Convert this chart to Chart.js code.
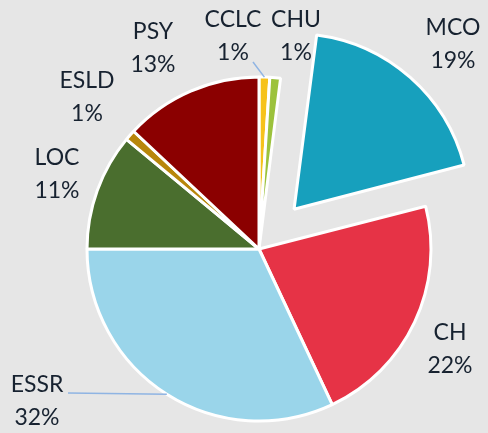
<!DOCTYPE html>
<html>
<head>
<meta charset="utf-8">
<script src="https://cdn.jsdelivr.net/npm/chart.js@4/dist/chart.umd.min.js"></script>
<style>
  html, body { margin: 0; padding: 0; background: #e6e6e6; }
  #wrap { width: 488px; height: 433px; }
</style>
</head>
<body>
<div id="wrap"><canvas id="pie" width="488" height="433"></canvas></div>
<script>
var categories = ['CCLC', 'CHU', 'MCO', 'CH', 'ESSR', 'LOC', 'ESLD', 'PSY'];
var shares = [1, 1, 19, 22, 32, 11, 1, 13];
var sliceColors = ['#f6c21b', '#9cc23c', '#17a0bd', '#e63346', '#9ad5ea', '#4a6e2e', '#b8860b', '#8b0000'];
var explode = [0, 0, 212, 0, 0, 0, 0, 0];

// where each label sits (centre of the name line), and which ones get a leader line
var labelSpots = [[233, 20], [296, 20], [453, 28], [450, 333], [37, 385], [57, 158], [87, 81], [153, 32]];
var leaders = { 0: [253, 62], 4: [68, 393] };

var bgPlugin = {
  id: 'bg',
  beforeDraw: function(chart) {
    var c = chart.ctx;
    c.save();
    c.fillStyle = '#e6e6e6';
    c.fillRect(0, 0, chart.width, chart.height);
    c.restore();
  }
};

var labelPlugin = {
  id: 'pieLabels',
  afterDatasetsDraw: function(chart) {
    var c = chart.ctx;
    var arcs = chart.getDatasetMeta(0).data;
    c.save();
    c.strokeStyle = '#8fb4e3';
    c.lineWidth = 1.5;
    Object.keys(leaders).forEach(function(k) {
      var a = arcs[k];
      var mid = (a.startAngle + a.endAngle) / 2;
      var from = leaders[k];
      c.beginPath();
      c.moveTo(from[0], from[1]);
      c.lineTo(a.x + Math.cos(mid) * a.outerRadius, a.y + Math.sin(mid) * a.outerRadius);
      c.stroke();
    });
    c.fillStyle = '#172230';
    c.font = '23px Lato, "Liberation Sans", sans-serif';
    c.textAlign = 'center';
    c.textBaseline = 'middle';
    categories.forEach(function(name, i) {
      var p = labelSpots[i];
      c.fillText(name, p[0], p[1]);
      c.fillText(shares[i] + '%', p[0], p[1] + 33);
    });
    c.restore();
  }
};

new Chart(document.getElementById('pie'), {
  type: 'pie',
  data: {
    labels: categories,
    datasets: [{
      data: shares,
      backgroundColor: sliceColors,
      borderColor: '#ffffff',
      borderWidth: 3,
      offset: explode,
      hoverOffset: 0
    }]
  },
  options: {
    responsive: false,
    animation: false,
    radius: 172,
    layout: { padding: { left: 30, right: 0, top: 65, bottom: 0 } },
    plugins: { legend: { display: false }, tooltip: { enabled: false } }
  },
  plugins: [bgPlugin, labelPlugin]
});
</script>
</body>
</html>
